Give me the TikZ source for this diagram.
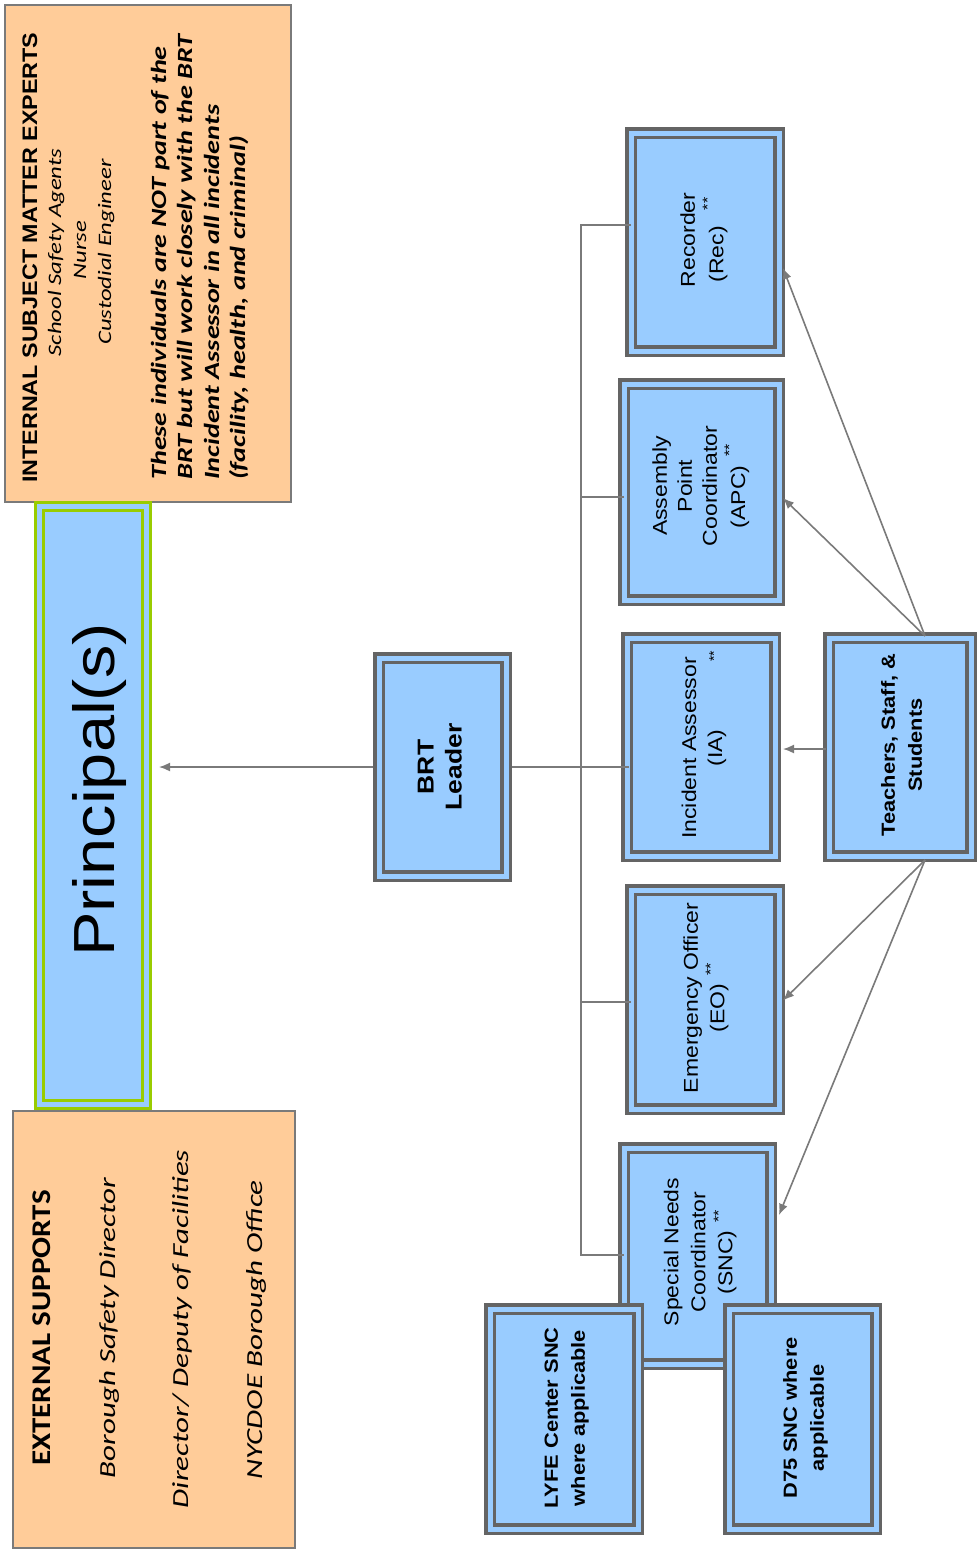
\documentclass[tikz,border=0pt]{standalone}
\usepackage{fontspec}
\usepackage{graphicx}
\usetikzlibrary{arrows.meta,calc}
\newfontfamily\arialf{Liberation Sans}
\newfontfamily\calf{Carlito}
\definecolor{peach}{HTML}{FFCC99}
\definecolor{lblue}{HTML}{99CCFF}
\definecolor{bgray}{HTML}{646464}
\definecolor{cgray}{HTML}{7A7A7A}
\definecolor{lime}{HTML}{99CC00}
\newcommand{\stx}[2]{\scalebox{#1}[1]{#2}}
\newcommand{\ml}[2]{\scalebox{#1}[1]{\begin{tabular}{@{}c@{}}#2\end{tabular}}}
\newcommand{\sts}[2]{\hspace{#1}\raisebox{#2}{\fontsize{14}{14}\selectfont **}}
\begin{document}
\begin{tikzpicture}[x=1pt,y=-1pt,
  dbox/.style={draw=bgray, line width=3.5pt, double=lblue, double distance=5pt, fill=lblue, inner sep=0pt, outer sep=6pt},
  pbox/.style={draw=lime, line width=3pt, double=lblue, double distance=5pt, fill=lblue, inner sep=0pt, outer sep=6pt},
  peachbox/.style={draw=cgray, line width=1.2pt, fill=peach, inner sep=0pt, outer sep=0pt},
  conn/.style={draw=cgray, line width=1.6pt},
  arr/.style={draw=cgray, line width=1.6pt, -{Latex[length=11pt,width=9pt]}},
  rtext/.style={rotate=90, inner sep=0pt, text=black, font=\arialf\fontsize{20}{26}\selectfont},
  btext/.style={rotate=90, inner sep=0pt, text=black, font=\arialf\bfseries\fontsize{19}{27}\selectfont},
  stars/.style={rotate=90, inner sep=0pt, text=black, font=\arialf\fontsize{14}{14}\selectfont},
  ptext/.style={rotate=90, inner sep=0pt, text=black}
]
\fill[white] (0,0) rectangle (979,1553);
\useasboundingbox (0,0) rectangle (979,1553);

% peach boxes
\node[peachbox, minimum width=286pt, minimum height=497pt] (int) at (148,253.5) {};
\node[peachbox, minimum width=282pt, minimum height=437pt] (ext) at (154,1329.5) {};

% principal
\node[pbox, minimum width=107pt, minimum height=598pt] (prin) at (92.5,805) {};

% blue boxes
\node[dbox, minimum width=127pt, minimum height=218pt] (brt) at (442.5,767) {};
\node[dbox, minimum width=148pt, minimum height=218pt] (rec) at (705,242) {};
\node[dbox, minimum width=155pt, minimum height=216pt] (apc) at (701.5,492) {};
\node[dbox, minimum width=148pt, minimum height=218pt] (ia) at (701,747) {};
\node[dbox, minimum width=148pt, minimum height=219pt] (eo) at (705,999.5) {};
\node[dbox, minimum width=147pt, minimum height=216pt] (snc) at (697.5,1256) {};
\node[dbox, minimum width=142pt, minimum height=218pt] (tss) at (900,747) {};
\node[dbox, minimum width=148pt, minimum height=220pt] (lyfe) at (564,1419) {};
\node[dbox, minimum width=147pt, minimum height=220pt] (d75) at (802.5,1419) {};

% connectors
\coordinate (tr) at (581,225);
\coordinate (ta) at (581,497);
\coordinate (te) at (581,1002);
\coordinate (ts) at (581,1255);
\draw[conn] ($(tr -| rec.west)+(6,0)$) -- (tr) -- (ts) -- ($(ts -| snc.west)+(6,0)$);
\draw[conn] (ta) -- ($(ta -| apc.west)+(6,0)$);
\draw[conn] (te) -- ($(te -| eo.west)+(6,0)$);
\draw[conn] (brt.east) -- ($(brt.east -| ia.west)+(8,0)$);
\draw[arr] (brt.west) -- ($(prin.east |- brt.west)+(7,0)$);

\coordinate (tsT) at ($(tss.north)+(25,4)$);
\coordinate (tsB) at ($(tss.south)+(25,-2)$);
\draw[arr] (tsT) -- ($(rec.east)+(-2,26)$);
\draw[arr] (tsT) -- ($(apc.east)+(-2,6)$);
\draw[arr] (tsB) -- ($(eo.east)+(-2,1)$);
\draw[arr] (tsB) -- ($(snc.east)+(2,-41)$);
\draw[arr] ($(tss.west)+(3,2)$) -- ($(ia.east)+(2,2)$);

% texts in blue boxes
\node[ptext, font=\arialf\fontsize{58}{64}\selectfont] (prinT) at (100,790) {\stx{1.15}{Principal(s)}};
\node[rtext, font=\arialf\bfseries\fontsize{23}{28}\selectfont] (brtT) at (442,767) {\ml{1.15}{BRT\\Leader}};
\node[rtext] (recT) at (704,240) {\ml{1.15}{Recorder\\(Rec)\sts{14pt}{11pt}}};
\node[rtext, font=\arialf\fontsize{20}{25}\selectfont] (apcT) at (701,486) {\ml{1.15}{Assembly\\Point\\Coordinator\\(APC)\sts{8pt}{11pt}}};
\node[rtext] (iaT) at (704,748) {\ml{1.15}{Incident Assessor\\(IA)}};
\node[stars] (iaS) at (714,656) {**};
\node[rtext] (eoT) at (706,998) {\ml{1.15}{Emergency Officer\\(EO)\sts{7pt}{9pt}}};
\node[rtext, font=\arialf\fontsize{20}{27}\selectfont] (sncT) at (700,1252) {\ml{1.15}{Special Needs\\Coordinator\\(SNC)\sts{7pt}{9pt}}};
\node[btext] (tssT) at (903,745) {\ml{1.15}{Teachers, Staff, \&\\Students}};
\node[btext] (lyfeT) at (566,1418) {\ml{1.15}{LYFE Center SNC\\where applicable}};
\node[btext] (d75T) at (805,1418) {\ml{1.15}{D75 SNC where\\applicable}};

% internal SME texts
\node[ptext, anchor=base west, font=\arialf\bfseries\fontsize{21}{25}\selectfont] (i1) at (37,483) {\stx{1.11}{INTERNAL SUBJECT MATTER EXPERTS}};
\node[ptext, anchor=base, font=\calf\itshape\fontsize{19}{23}\selectfont] (i2) at (61,252.5) {\stx{1.3}{School Safety Agents}};
\node[ptext, anchor=base, font=\calf\itshape\fontsize{19}{23}\selectfont] (i3) at (86,250) {\stx{1.3}{Nurse}};
\node[ptext, anchor=base, font=\calf\itshape\fontsize{19}{23}\selectfont] (i4) at (111,252) {\stx{1.3}{Custodial Engineer}};
\node[ptext, anchor=base west, font=\calf\bfseries\itshape\fontsize{21.7}{26}\selectfont] (i5) at (166,480) {\stx{1.3}{These individuals are NOT part of the}};
\node[ptext, anchor=base west, font=\calf\bfseries\itshape\fontsize{21.7}{26}\selectfont] (i6) at (192,480) {\stx{1.3}{BRT but will work closely with the BRT}};
\node[ptext, anchor=base west, font=\calf\bfseries\itshape\fontsize{21.7}{26}\selectfont] (i7) at (219,480) {\stx{1.3}{Incident Assessor in all incidents}};
\node[ptext, anchor=base west, font=\calf\bfseries\itshape\fontsize{21.7}{26}\selectfont] (i8) at (245,480) {\stx{1.3}{(facility, health, and criminal)}};

% external supports texts
\node[ptext, anchor=base, font=\calf\bfseries\fontsize{27}{30}\selectfont] (e1) at (50,1328) {\stx{1.15}{EXTERNAL SUPPORTS}};
\node[ptext, anchor=base, font=\calf\itshape\fontsize{23}{27}\selectfont] (e2) at (115,1328) {\stx{1.35}{Borough Safety Director}};
\node[ptext, anchor=base, font=\calf\itshape\fontsize{23}{27}\selectfont] (e3) at (188,1329) {\stx{1.35}{Director/ Deputy of Facilities}};
\node[ptext, anchor=base, font=\calf\itshape\fontsize{23}{27}\selectfont] (e4) at (262,1330) {\stx{1.35}{NYCDOE Borough Office}};
\end{tikzpicture}
\end{document}
